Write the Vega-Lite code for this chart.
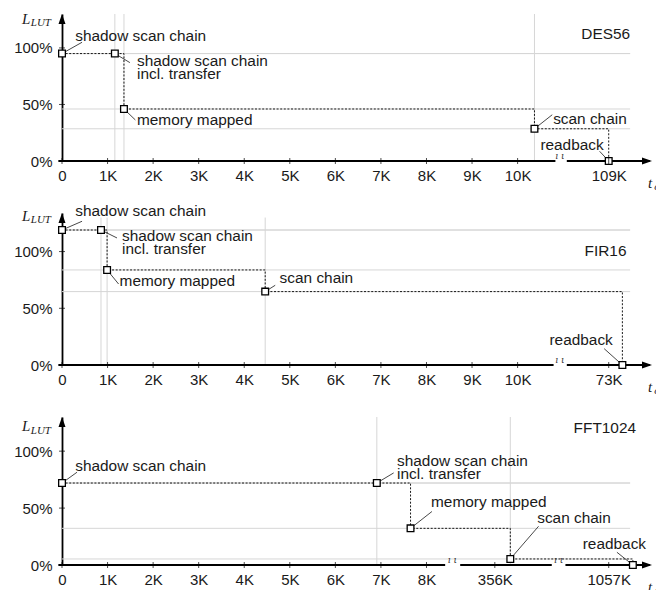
{
  "$schema": "https://vega.github.io/schema/vega-lite/v6.json",
  "padding": {"left": 13, "top": 11, "right": 0, "bottom": 0},
  "spacing": 52,
  "bounds": "flush",
  "resolve": {"scale": {"x": "independent", "y": "independent"}, "axis": {"x": "independent", "y": "independent"}},
  "config": {
    "view": {"stroke": null},
    "axis": {"labelFont": "Liberation Sans", "labelFontSize": 15, "labelColor": "#1a1a1a", "grid": false, "ticks": false, "title": null, "labelFlush": false, "labelOverlap": false},
    "text": {"font": "Liberation Sans", "fontSize": 15.4, "color": "#1a1a1a"}
  },
  "vconcat": [
    {
      "width": 590, "height": 147,
      "data": {"values": [
        {"k":"pt","pos":0,"val":95},
        {"k":"pt","pos":1.16,"val":95},
        {"k":"pt","pos":1.36,"val":46},
        {"k":"pt","pos":10.37,"val":28.5},
        {"k":"pt","pos":12,"val":0},
        {"k":"vg","pos":1.16,"val":0},
        {"k":"vg","pos":1.36,"val":0},
        {"k":"vg","pos":10.37,"val":0},
        {"k":"ld","pos":0,"val":95,"pos2":0.44,"val2":105},
        {"k":"ld","pos":1.16,"val":95,"pos2":1.49,"val2":87},
        {"k":"ld","pos":1.36,"val":46,"pos2":1.61,"val2":36.3},
        {"k":"ld","pos":10.37,"val":28.5,"pos2":10.76,"val2":40.9},
        {"k":"ld","pos":12,"val":0,"pos2":11.8,"val2":8.6},
        {"k":"lb","pos":0.29,"val":106.5,"text":"shadow scan chain"},
        {"k":"lb","pos":1.646,"val":83.7,"text":["shadow scan chain","incl. transfer"]},
        {"k":"lb","pos":1.646,"val":31.6,"text":"memory mapped"},
        {"k":"lb","pos":10.78,"val":33,"text":"scan chain"},
        {"k":"lb","pos":10.5,"val":10,"text":"readback"},
        {"k":"ti","pos":12.47,"val":108.1,"text":"DES56"},
        {"k":"ax","pos":-0.08,"pos2":10.83,"val":0},
        {"k":"ax","pos":11.08,"pos2":12.9,"val":0},
        {"k":"br","pos":10.93,"val":0},
        {"k":"tk","pos":0,"val":0},{"k":"tk","pos":1,"val":0},{"k":"tk","pos":2,"val":0},{"k":"tk","pos":3,"val":0},{"k":"tk","pos":4,"val":0},{"k":"tk","pos":5,"val":0},
        {"k":"tk","pos":6,"val":0},{"k":"tk","pos":7,"val":0},{"k":"tk","pos":8,"val":0},{"k":"tk","pos":9,"val":0},{"k":"tk","pos":10,"val":0},{"k":"tk","pos":12,"val":0},
        {"k":"ytk","pos":0,"val":50},{"k":"ytk","pos":0,"val":100},
        {"k":"ya","pos":0,"val":130},
        {"k":"xa","pos":12.95,"val":0},
        {"k":"tx","pos":-0.878,"val":121.2,"text":"L"},
        {"k":"ts","pos":-0.685,"val":119.1,"text":"LUT"},
        {"k":"tx","pos":12.86,"val":-24,"text":"t"},
        {"k":"ts","pos":13.0,"val":-26,"text":"c"}
      ]},
      "encoding": {
        "x": {"field": "pos", "type": "quantitative", "scale": {"domain": [0, 12.95], "nice": false, "zero": false},
              "axis": {"values": [0,1,2,3,4,5,6,7,8,9,10,12], "labelExpr": "datum.value == 0 ? '0' : datum.value == 12 ? '109K' : datum.value + 'K'", "domain": false, "labelPadding": 7}},
        "y": {"field": "val", "type": "quantitative", "scale": {"domain": [0, 130], "nice": false},
              "axis": {"values": [0,50,100], "labelExpr": "datum.value + '%'", "domain": true, "domainColor": "black", "domainWidth": 1.8, "labelPadding": 10}}
      },
      "layer": [
        {"transform":[{"filter":"datum.k=='pt' && datum.val>0"}], "mark":{"type":"rule","color":"#d6d6d6","strokeWidth":1}, "encoding":{"x":{"datum":0},"x2":{"datum":12.47}}},
        {"transform":[{"filter":"datum.k=='vg'"}], "mark":{"type":"rule","color":"#d6d6d6","strokeWidth":1}, "encoding":{"y2":{"datum":130}}},
        {"transform":[{"filter":"datum.k=='ax'"}], "mark":{"type":"rule","color":"black","strokeWidth":1.8}, "encoding":{"x2":{"field":"pos2"}}},
        {"transform":[{"filter":"datum.k=='pt'"}], "mark":{"type":"line","interpolate":"step-after","color":"black","strokeWidth":0.9,"strokeDash":[2,1.6]}, "encoding":{}},
        {"transform":[{"filter":"datum.k=='ld'"}], "mark":{"type":"rule","color":"#333333","strokeWidth":0.9}, "encoding":{"x2":{"field":"pos2"},"y2":{"field":"val2"}}},
        {"transform":[{"filter":"datum.k=='pt'"}], "mark":{"type":"point","shape":"square","size":45,"filled":true,"fill":"white","stroke":"black","strokeWidth":1.3,"opacity":1}, "encoding":{}},
        {"transform":[{"filter":"datum.k=='tk'"}], "mark":{"type":"tick","orient":"vertical","size":6,"thickness":1,"color":"black"}, "encoding":{}},
        {"transform":[{"filter":"datum.k=='ytk'"}], "mark":{"type":"tick","orient":"horizontal","size":6,"thickness":1,"color":"black"}, "encoding":{}},
        {"transform":[{"filter":"datum.k=='lb'"}], "mark":{"type":"text","align":"left","baseline":"alphabetic","lineHeight":13}, "encoding":{"text":{"field":"text"}}},
        {"transform":[{"filter":"datum.k=='ti'"}], "mark":{"type":"text","align":"right","baseline":"alphabetic"}, "encoding":{"text":{"field":"text"}}},
        {"transform":[{"filter":"datum.k=='br'"}], "mark":{"type":"text","text":"ı ι","align":"center","baseline":"bottom","fontSize":9,"fill":"#333333","font":"DejaVu Serif","fontStyle":"italic"}, "encoding":{}},
        {"transform":[{"filter":"datum.k=='ya'"}], "mark":{"type":"point","shape":"M0,0L-0.7,2L0.7,2Z","size":100,"filled":true,"color":"black","opacity":1}, "encoding":{}},
        {"transform":[{"filter":"datum.k=='xa'"}], "mark":{"type":"point","shape":"M0,0L-2,-0.7L-2,0.7Z","size":100,"filled":true,"color":"black","opacity":1}, "encoding":{}},
        {"transform":[{"filter":"datum.k=='tx'"}], "mark":{"type":"text","align":"left","baseline":"alphabetic","font":"Liberation Serif","fontStyle":"italic","fontSize":15}, "encoding":{"text":{"field":"text"}}},
        {"transform":[{"filter":"datum.k=='ts'"}], "mark":{"type":"text","align":"left","baseline":"alphabetic","font":"Liberation Serif","fontStyle":"italic","fontSize":11}, "encoding":{"text":{"field":"text"}}}
      ]
    },
    {
      "width": 590, "height": 152,
      "data": {"values": [
        {"k":"pt","pos":0,"val":119},
        {"k":"pt","pos":0.856,"val":119},
        {"k":"pt","pos":0.99,"val":83.8},
        {"k":"pt","pos":4.46,"val":64.7},
        {"k":"pt","pos":12.3,"val":0},
        {"k":"vg","pos":0.856,"val":0},
        {"k":"vg","pos":0.99,"val":0},
        {"k":"vg","pos":4.46,"val":0},
        {"k":"ld","pos":0,"val":119,"pos2":0.44,"val2":126.7},
        {"k":"ld","pos":0.856,"val":119,"pos2":1.207,"val2":112},
        {"k":"ld","pos":0.99,"val":83.8,"pos2":1.242,"val2":71.4},
        {"k":"ld","pos":4.46,"val":64.7,"pos2":4.68,"val2":70.3},
        {"k":"ld","pos":12.3,"val":0,"pos2":11.9,"val2":14.4},
        {"k":"lb","pos":0.29,"val":131.1,"text":"shadow scan chain"},
        {"k":"lb","pos":1.317,"val":109,"text":["shadow scan chain","incl. transfer"]},
        {"k":"lb","pos":1.264,"val":69.4,"text":"memory mapped"},
        {"k":"lb","pos":4.776,"val":72.3,"text":"scan chain"},
        {"k":"lb","pos":10.7,"val":17.9,"text":"readback"},
        {"k":"ti","pos":12.39,"val":95.8,"text":"FIR16"},
        {"k":"ax","pos":-0.08,"pos2":10.79,"val":0},
        {"k":"ax","pos":11.08,"pos2":12.9,"val":0},
        {"k":"br","pos":10.93,"val":0},
        {"k":"tk","pos":0,"val":0},{"k":"tk","pos":1,"val":0},{"k":"tk","pos":2,"val":0},{"k":"tk","pos":3,"val":0},{"k":"tk","pos":4,"val":0},{"k":"tk","pos":5,"val":0},
        {"k":"tk","pos":6,"val":0},{"k":"tk","pos":7,"val":0},{"k":"tk","pos":8,"val":0},{"k":"tk","pos":9,"val":0},{"k":"tk","pos":10,"val":0},{"k":"tk","pos":12,"val":0},
        {"k":"ytk","pos":0,"val":50},{"k":"ytk","pos":0,"val":100},
        {"k":"ya","pos":0,"val":134},
        {"k":"xa","pos":12.95,"val":0},
        {"k":"tx","pos":-0.878,"val":127.2,"text":"L"},
        {"k":"ts","pos":-0.685,"val":125.2,"text":"LUT"},
        {"k":"tx","pos":12.86,"val":-23.8,"text":"t"},
        {"k":"ts","pos":13.0,"val":-25.8,"text":"c"}
      ]},
      "encoding": {
        "x": {"field": "pos", "type": "quantitative", "scale": {"domain": [0, 12.95], "nice": false, "zero": false},
              "axis": {"values": [0,1,2,3,4,5,6,7,8,9,10,12], "labelExpr": "datum.value == 0 ? '0' : datum.value == 12 ? '73K' : datum.value + 'K'", "domain": false, "labelPadding": 7}},
        "y": {"field": "val", "type": "quantitative", "scale": {"domain": [0, 134], "nice": false},
              "axis": {"values": [0,50,100], "labelExpr": "datum.value + '%'", "domain": true, "domainColor": "black", "domainWidth": 1.8, "labelPadding": 10}}
      },
      "layer": [
        {"transform":[{"filter":"datum.k=='pt' && datum.val>0"}], "mark":{"type":"rule","color":"#d6d6d6","strokeWidth":1}, "encoding":{"x":{"datum":0},"x2":{"datum":12.47}}},
        {"transform":[{"filter":"datum.k=='vg'"}], "mark":{"type":"rule","color":"#d6d6d6","strokeWidth":1}, "encoding":{"y2":{"datum":130}}},
        {"transform":[{"filter":"datum.k=='ax'"}], "mark":{"type":"rule","color":"black","strokeWidth":1.8}, "encoding":{"x2":{"field":"pos2"}}},
        {"transform":[{"filter":"datum.k=='pt'"}], "mark":{"type":"line","interpolate":"step-after","color":"black","strokeWidth":0.9,"strokeDash":[2,1.6]}, "encoding":{}},
        {"transform":[{"filter":"datum.k=='ld'"}], "mark":{"type":"rule","color":"#333333","strokeWidth":0.9}, "encoding":{"x2":{"field":"pos2"},"y2":{"field":"val2"}}},
        {"transform":[{"filter":"datum.k=='pt'"}], "mark":{"type":"point","shape":"square","size":45,"filled":true,"fill":"white","stroke":"black","strokeWidth":1.3,"opacity":1}, "encoding":{}},
        {"transform":[{"filter":"datum.k=='tk'"}], "mark":{"type":"tick","orient":"vertical","size":6,"thickness":1,"color":"black"}, "encoding":{}},
        {"transform":[{"filter":"datum.k=='ytk'"}], "mark":{"type":"tick","orient":"horizontal","size":6,"thickness":1,"color":"black"}, "encoding":{}},
        {"transform":[{"filter":"datum.k=='lb'"}], "mark":{"type":"text","align":"left","baseline":"alphabetic","lineHeight":13}, "encoding":{"text":{"field":"text"}}},
        {"transform":[{"filter":"datum.k=='ti'"}], "mark":{"type":"text","align":"right","baseline":"alphabetic"}, "encoding":{"text":{"field":"text"}}},
        {"transform":[{"filter":"datum.k=='br'"}], "mark":{"type":"text","text":"ı ι","align":"center","baseline":"bottom","fontSize":9,"fill":"#333333","font":"DejaVu Serif","fontStyle":"italic"}, "encoding":{}},
        {"transform":[{"filter":"datum.k=='ya'"}], "mark":{"type":"point","shape":"M0,0L-0.7,2L0.7,2Z","size":100,"filled":true,"color":"black","opacity":1}, "encoding":{}},
        {"transform":[{"filter":"datum.k=='xa'"}], "mark":{"type":"point","shape":"M0,0L-2,-0.7L-2,0.7Z","size":100,"filled":true,"color":"black","opacity":1}, "encoding":{}},
        {"transform":[{"filter":"datum.k=='tx'"}], "mark":{"type":"text","align":"left","baseline":"alphabetic","font":"Liberation Serif","fontStyle":"italic","fontSize":15}, "encoding":{"text":{"field":"text"}}},
        {"transform":[{"filter":"datum.k=='ts'"}], "mark":{"type":"text","align":"left","baseline":"alphabetic","font":"Liberation Serif","fontStyle":"italic","fontSize":11}, "encoding":{"text":{"field":"text"}}}
      ]
    },
    {
      "width": 590, "height": 148,
      "data": {"values": [
        {"k":"pt","pos":0,"val":72},
        {"k":"pt","pos":6.91,"val":72},
        {"k":"pt","pos":7.65,"val":32.2},
        {"k":"pt","pos":9.84,"val":5.3},
        {"k":"pt","pos":12.53,"val":0},
        {"k":"vg","pos":6.91,"val":0},
        {"k":"vg","pos":9.84,"val":0},
        {"k":"ld","pos":0,"val":72,"pos2":0.33,"val2":81.5},
        {"k":"ld","pos":6.91,"val":72,"pos2":7.28,"val2":80.9},
        {"k":"ld","pos":7.65,"val":32.2,"pos2":8.12,"val2":47},
        {"k":"ld","pos":9.84,"val":5.3,"pos2":10.46,"val2":34},
        {"k":"ld","pos":12.53,"val":0,"pos2":12.18,"val2":11.2},
        {"k":"lb","pos":0.29,"val":83,"text":"shadow scan chain"},
        {"k":"lb","pos":7.353,"val":86.8,"text":["shadow scan chain","incl. transfer"]},
        {"k":"lb","pos":8.1,"val":50.7,"text":"memory mapped"},
        {"k":"lb","pos":10.43,"val":36.9,"text":"scan chain"},
        {"k":"lb","pos":11.43,"val":14.1,"text":"readback"},
        {"k":"ti","pos":12.6,"val":116,"text":"FFT1024"},
        {"k":"ax","pos":-0.08,"pos2":8.41,"val":0},
        {"k":"ax","pos":8.74,"pos2":10.75,"val":0},
        {"k":"ax","pos":11.05,"pos2":12.9,"val":0},
        {"k":"br","pos":8.57,"val":0},
        {"k":"br","pos":10.9,"val":0},
        {"k":"tk","pos":0,"val":0},{"k":"tk","pos":1,"val":0},{"k":"tk","pos":2,"val":0},{"k":"tk","pos":3,"val":0},{"k":"tk","pos":4,"val":0},{"k":"tk","pos":5,"val":0},
        {"k":"tk","pos":6,"val":0},{"k":"tk","pos":7,"val":0},{"k":"tk","pos":8,"val":0},{"k":"tk","pos":9.5,"val":0},{"k":"tk","pos":12,"val":0},
        {"k":"ytk","pos":0,"val":50},{"k":"ytk","pos":0,"val":100},
        {"k":"ya","pos":0,"val":130},
        {"k":"xa","pos":12.95,"val":0},
        {"k":"tx","pos":-0.878,"val":117.4,"text":"L"},
        {"k":"ts","pos":-0.685,"val":115.3,"text":"LUT"},
        {"k":"tx","pos":12.86,"val":-23.7,"text":"t"},
        {"k":"ts","pos":13.0,"val":-25.7,"text":"c"}
      ]},
      "encoding": {
        "x": {"field": "pos", "type": "quantitative", "scale": {"domain": [0, 12.95], "nice": false, "zero": false},
              "axis": {"values": [0,1,2,3,4,5,6,7,8,9.5,12], "labelExpr": "datum.value == 0 ? '0' : datum.value == 9.5 ? '356K' : datum.value == 12 ? '1057K' : datum.value + 'K'", "domain": false, "labelPadding": 7}},
        "y": {"field": "val", "type": "quantitative", "scale": {"domain": [0, 130], "nice": false},
              "axis": {"values": [0,50,100], "labelExpr": "datum.value + '%'", "domain": true, "domainColor": "black", "domainWidth": 1.8, "labelPadding": 10}}
      },
      "layer": [
        {"transform":[{"filter":"datum.k=='pt' && datum.val>0"}], "mark":{"type":"rule","color":"#d6d6d6","strokeWidth":1}, "encoding":{"x":{"datum":0},"x2":{"datum":12.47}}},
        {"transform":[{"filter":"datum.k=='vg'"}], "mark":{"type":"rule","color":"#d6d6d6","strokeWidth":1}, "encoding":{"y2":{"datum":130}}},
        {"transform":[{"filter":"datum.k=='ax'"}], "mark":{"type":"rule","color":"black","strokeWidth":1.8}, "encoding":{"x2":{"field":"pos2"}}},
        {"transform":[{"filter":"datum.k=='pt'"}], "mark":{"type":"line","interpolate":"step-after","color":"black","strokeWidth":0.9,"strokeDash":[2,1.6]}, "encoding":{}},
        {"transform":[{"filter":"datum.k=='ld'"}], "mark":{"type":"rule","color":"#333333","strokeWidth":0.9}, "encoding":{"x2":{"field":"pos2"},"y2":{"field":"val2"}}},
        {"transform":[{"filter":"datum.k=='pt'"}], "mark":{"type":"point","shape":"square","size":45,"filled":true,"fill":"white","stroke":"black","strokeWidth":1.3,"opacity":1}, "encoding":{}},
        {"transform":[{"filter":"datum.k=='tk'"}], "mark":{"type":"tick","orient":"vertical","size":6,"thickness":1,"color":"black"}, "encoding":{}},
        {"transform":[{"filter":"datum.k=='ytk'"}], "mark":{"type":"tick","orient":"horizontal","size":6,"thickness":1,"color":"black"}, "encoding":{}},
        {"transform":[{"filter":"datum.k=='lb'"}], "mark":{"type":"text","align":"left","baseline":"alphabetic","lineHeight":13}, "encoding":{"text":{"field":"text"}}},
        {"transform":[{"filter":"datum.k=='ti'"}], "mark":{"type":"text","align":"right","baseline":"alphabetic"}, "encoding":{"text":{"field":"text"}}},
        {"transform":[{"filter":"datum.k=='br'"}], "mark":{"type":"text","text":"ı ι","align":"center","baseline":"bottom","fontSize":9,"fill":"#333333","font":"DejaVu Serif","fontStyle":"italic"}, "encoding":{}},
        {"transform":[{"filter":"datum.k=='ya'"}], "mark":{"type":"point","shape":"M0,0L-0.7,2L0.7,2Z","size":100,"filled":true,"color":"black","opacity":1}, "encoding":{}},
        {"transform":[{"filter":"datum.k=='xa'"}], "mark":{"type":"point","shape":"M0,0L-2,-0.7L-2,0.7Z","size":100,"filled":true,"color":"black","opacity":1}, "encoding":{}},
        {"transform":[{"filter":"datum.k=='tx'"}], "mark":{"type":"text","align":"left","baseline":"alphabetic","font":"Liberation Serif","fontStyle":"italic","fontSize":15}, "encoding":{"text":{"field":"text"}}},
        {"transform":[{"filter":"datum.k=='ts'"}], "mark":{"type":"text","align":"left","baseline":"alphabetic","font":"Liberation Serif","fontStyle":"italic","fontSize":11}, "encoding":{"text":{"field":"text"}}}
      ]
    }
  ]
}
